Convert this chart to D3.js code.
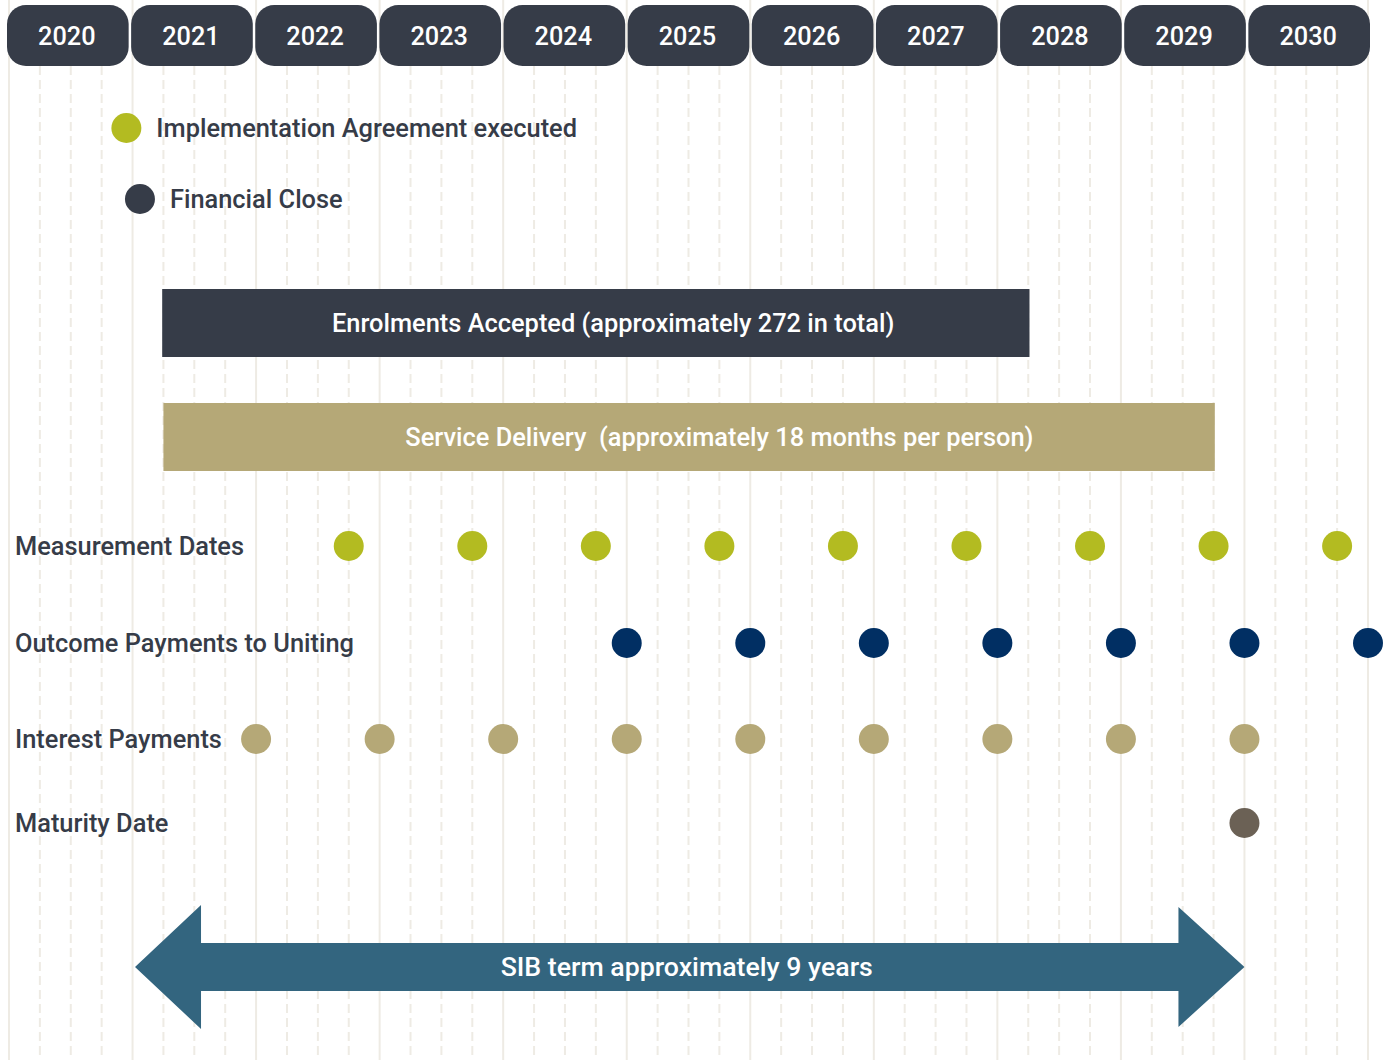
<!DOCTYPE html>
<html>
  <head>
    <title>SIB Timeline</title>
    <style>
body {
  margin: 0px;
  overflow: hidden;
  background: #fff;
}
text {
  font-family: Roboto, sans-serif;
}
.year-label {
  font-size: 25.3px;
  font-weight: 500;
  fill: #fff;
}
.row-label {
  font-size: 25.4px;
  font-weight: 500;
  fill: #363c48;
}
.bar-label {
  font-size: 25.4px;
  font-weight: 500;
  fill: #fff;
}
.arrow-label {
  font-size: 26.7px;
  font-weight: 500;
  fill: #fff;
}
.grid-major {
  stroke: #eeebe4;
  stroke-width: 2;
}
.grid-minor {
  stroke: #eeebe4;
  stroke-width: 2;
  stroke-dasharray: 9 5;
}
    </style>
    <script src="https://d3js.org/d3.v7.min.js"></script>
  </head>
  <body>
    <svg width="1391" height="1060"></svg>
    <script>

// data: dates as decimal years
const years = [2020, 2021, 2022, 2023, 2024, 2025, 2026, 2027, 2028, 2029, 2030];

const milestones = [
  { label: 'Implementation Agreement executed', date: 2020.95, color: '#b3bb21' },
  { label: 'Financial Close', date: 2021.06, color: '#363c48' }
];

const phases = [
  { label: 'Enrolments Accepted (approximately 272 in total)', start: 2021.24, end: 2028.26, labelAt: 2024.89, color: '#363c48' },
  { label: 'Service Delivery\u00a0 (approximately 18 months per person)', start: 2021.25, end: 2029.76, labelAt: 2025.75, color: '#b5a877' }
];

const measurementDates = [2022.75, 2023.75, 2024.75, 2025.75, 2026.75, 2027.75, 2028.75, 2029.75, 2030.75];
const outcomePayments = [2025, 2026, 2027, 2028, 2029, 2030, 2031];
const interestPayments = [2022, 2023, 2024, 2025, 2026, 2027, 2028, 2029, 2030];
const maturityDates = [2030];

const sibTerm = { label: 'SIB term approximately 9 years', start: 2021.02, end: 2030.0 };

const svg = d3.select('svg');
const width = +svg.attr('width');
const height = +svg.attr('height');

const x = d3.scaleLinear()
  .domain([2020, 2031])
  .range([9, 1368]);

const band = d3.scaleBand()
  .domain(years)
  .range([7, 1370])
  .paddingInner(0.02);

// grid lines
const quarters = d3.range(2020, 2031, 0.25).filter(d => d % 1 !== 0);
svg.append('g').selectAll('line')
  .data(quarters)
  .enter().append('line')
    .attr('class', 'grid-minor')
    .attr('x1', d => x(d)).attr('x2', d => x(d))
    .attr('y1', 66).attr('y2', height);

svg.append('g').selectAll('line')
  .data(d3.range(2020, 2032))
  .enter().append('line')
    .attr('class', 'grid-major')
    .attr('x1', d => x(d)).attr('x2', d => x(d))
    .attr('y1', 0).attr('y2', height);

// year header
const header = svg.append('g').selectAll('g')
  .data(years)
  .enter().append('g');

header.append('rect')
  .attr('x', d => band(d))
  .attr('y', 5)
  .attr('width', band.bandwidth())
  .attr('height', 61)
  .attr('rx', 19)
  .attr('fill', '#363c48');

header.append('text')
  .attr('class', 'year-label')
  .attr('x', d => band(d) + band.bandwidth() / 2 - 1)
  .attr('y', 45)
  .attr('text-anchor', 'middle')
  .text(d => d);

// legend milestones
const legendY = [128, 199];
const legend = svg.append('g').selectAll('g')
  .data(milestones)
  .enter().append('g');

legend.append('circle')
  .attr('cx', d => x(d.date))
  .attr('cy', (d, i) => legendY[i])
  .attr('r', 15)
  .attr('fill', d => d.color);

legend.append('text')
  .attr('class', 'row-label')
  .attr('x', d => x(d.date) + 30)
  .attr('y', (d, i) => legendY[i] + 9)
  .text(d => d.label);

// phase bars
const barY = [289, 403];
const barH = 68;
const bars = svg.append('g').selectAll('g')
  .data(phases)
  .enter().append('g');

bars.append('rect')
  .attr('x', d => x(d.start))
  .attr('y', (d, i) => barY[i])
  .attr('width', d => x(d.end) - x(d.start))
  .attr('height', barH)
  .attr('fill', d => d.color);

bars.append('text')
  .attr('class', 'bar-label')
  .attr('x', d => x(d.labelAt))
  .attr('y', (d, i) => barY[i] + barH / 2 + 9)
  .attr('text-anchor', 'middle')
  .text(d => d.label);

// dot rows
const rows = [
  { label: 'Measurement Dates', dates: measurementDates, color: '#b3bb21', y: 546 },
  { label: 'Outcome Payments to Uniting', dates: outcomePayments, color: '#012f63', y: 643 },
  { label: 'Interest Payments', dates: interestPayments, color: '#b5a877', y: 739 },
  { label: 'Maturity Date', dates: maturityDates, color: '#6b6155', y: 823 }
];

const rowG = svg.append('g').selectAll('g')
  .data(rows)
  .enter().append('g');

rowG.append('text')
  .attr('class', 'row-label')
  .attr('x', 15)
  .attr('y', d => d.y + 9)
  .text(d => d.label);

rowG.selectAll('circle')
  .data(d => d.dates.map(date => ({ date: date, row: d })))
  .enter().append('circle')
    .attr('cx', d => x(d.date))
    .attr('cy', d => d.row.y)
    .attr('r', 15)
    .attr('fill', d => d.row.color);

// SIB term arrow
const ay = 967;
const headW = 66, headH = 62, shaftH = 24;
const x0 = x(sibTerm.start), x1 = x(sibTerm.end);
const arrow = d3.path();
arrow.moveTo(x0, ay);
arrow.lineTo(x0 + headW, ay - headH);
arrow.lineTo(x0 + headW, ay - shaftH);
arrow.lineTo(x1 - headW, ay - shaftH);
arrow.lineTo(x1 - headW, ay - headH + 2);
arrow.lineTo(x1, ay);
arrow.lineTo(x1 - headW, ay + headH - 2);
arrow.lineTo(x1 - headW, ay + shaftH);
arrow.lineTo(x0 + headW, ay + shaftH);
arrow.lineTo(x0 + headW, ay + headH);
arrow.closePath();

svg.append('path')
  .attr('d', arrow.toString())
  .attr('fill', '#33657f');

svg.append('text')
  .attr('class', 'arrow-label')
  .attr('x', (x0 + x1) / 2 - 3)
  .attr('y', ay + 9)
  .attr('text-anchor', 'middle')
  .text(sibTerm.label);

    </script>
  </body>
</html>
